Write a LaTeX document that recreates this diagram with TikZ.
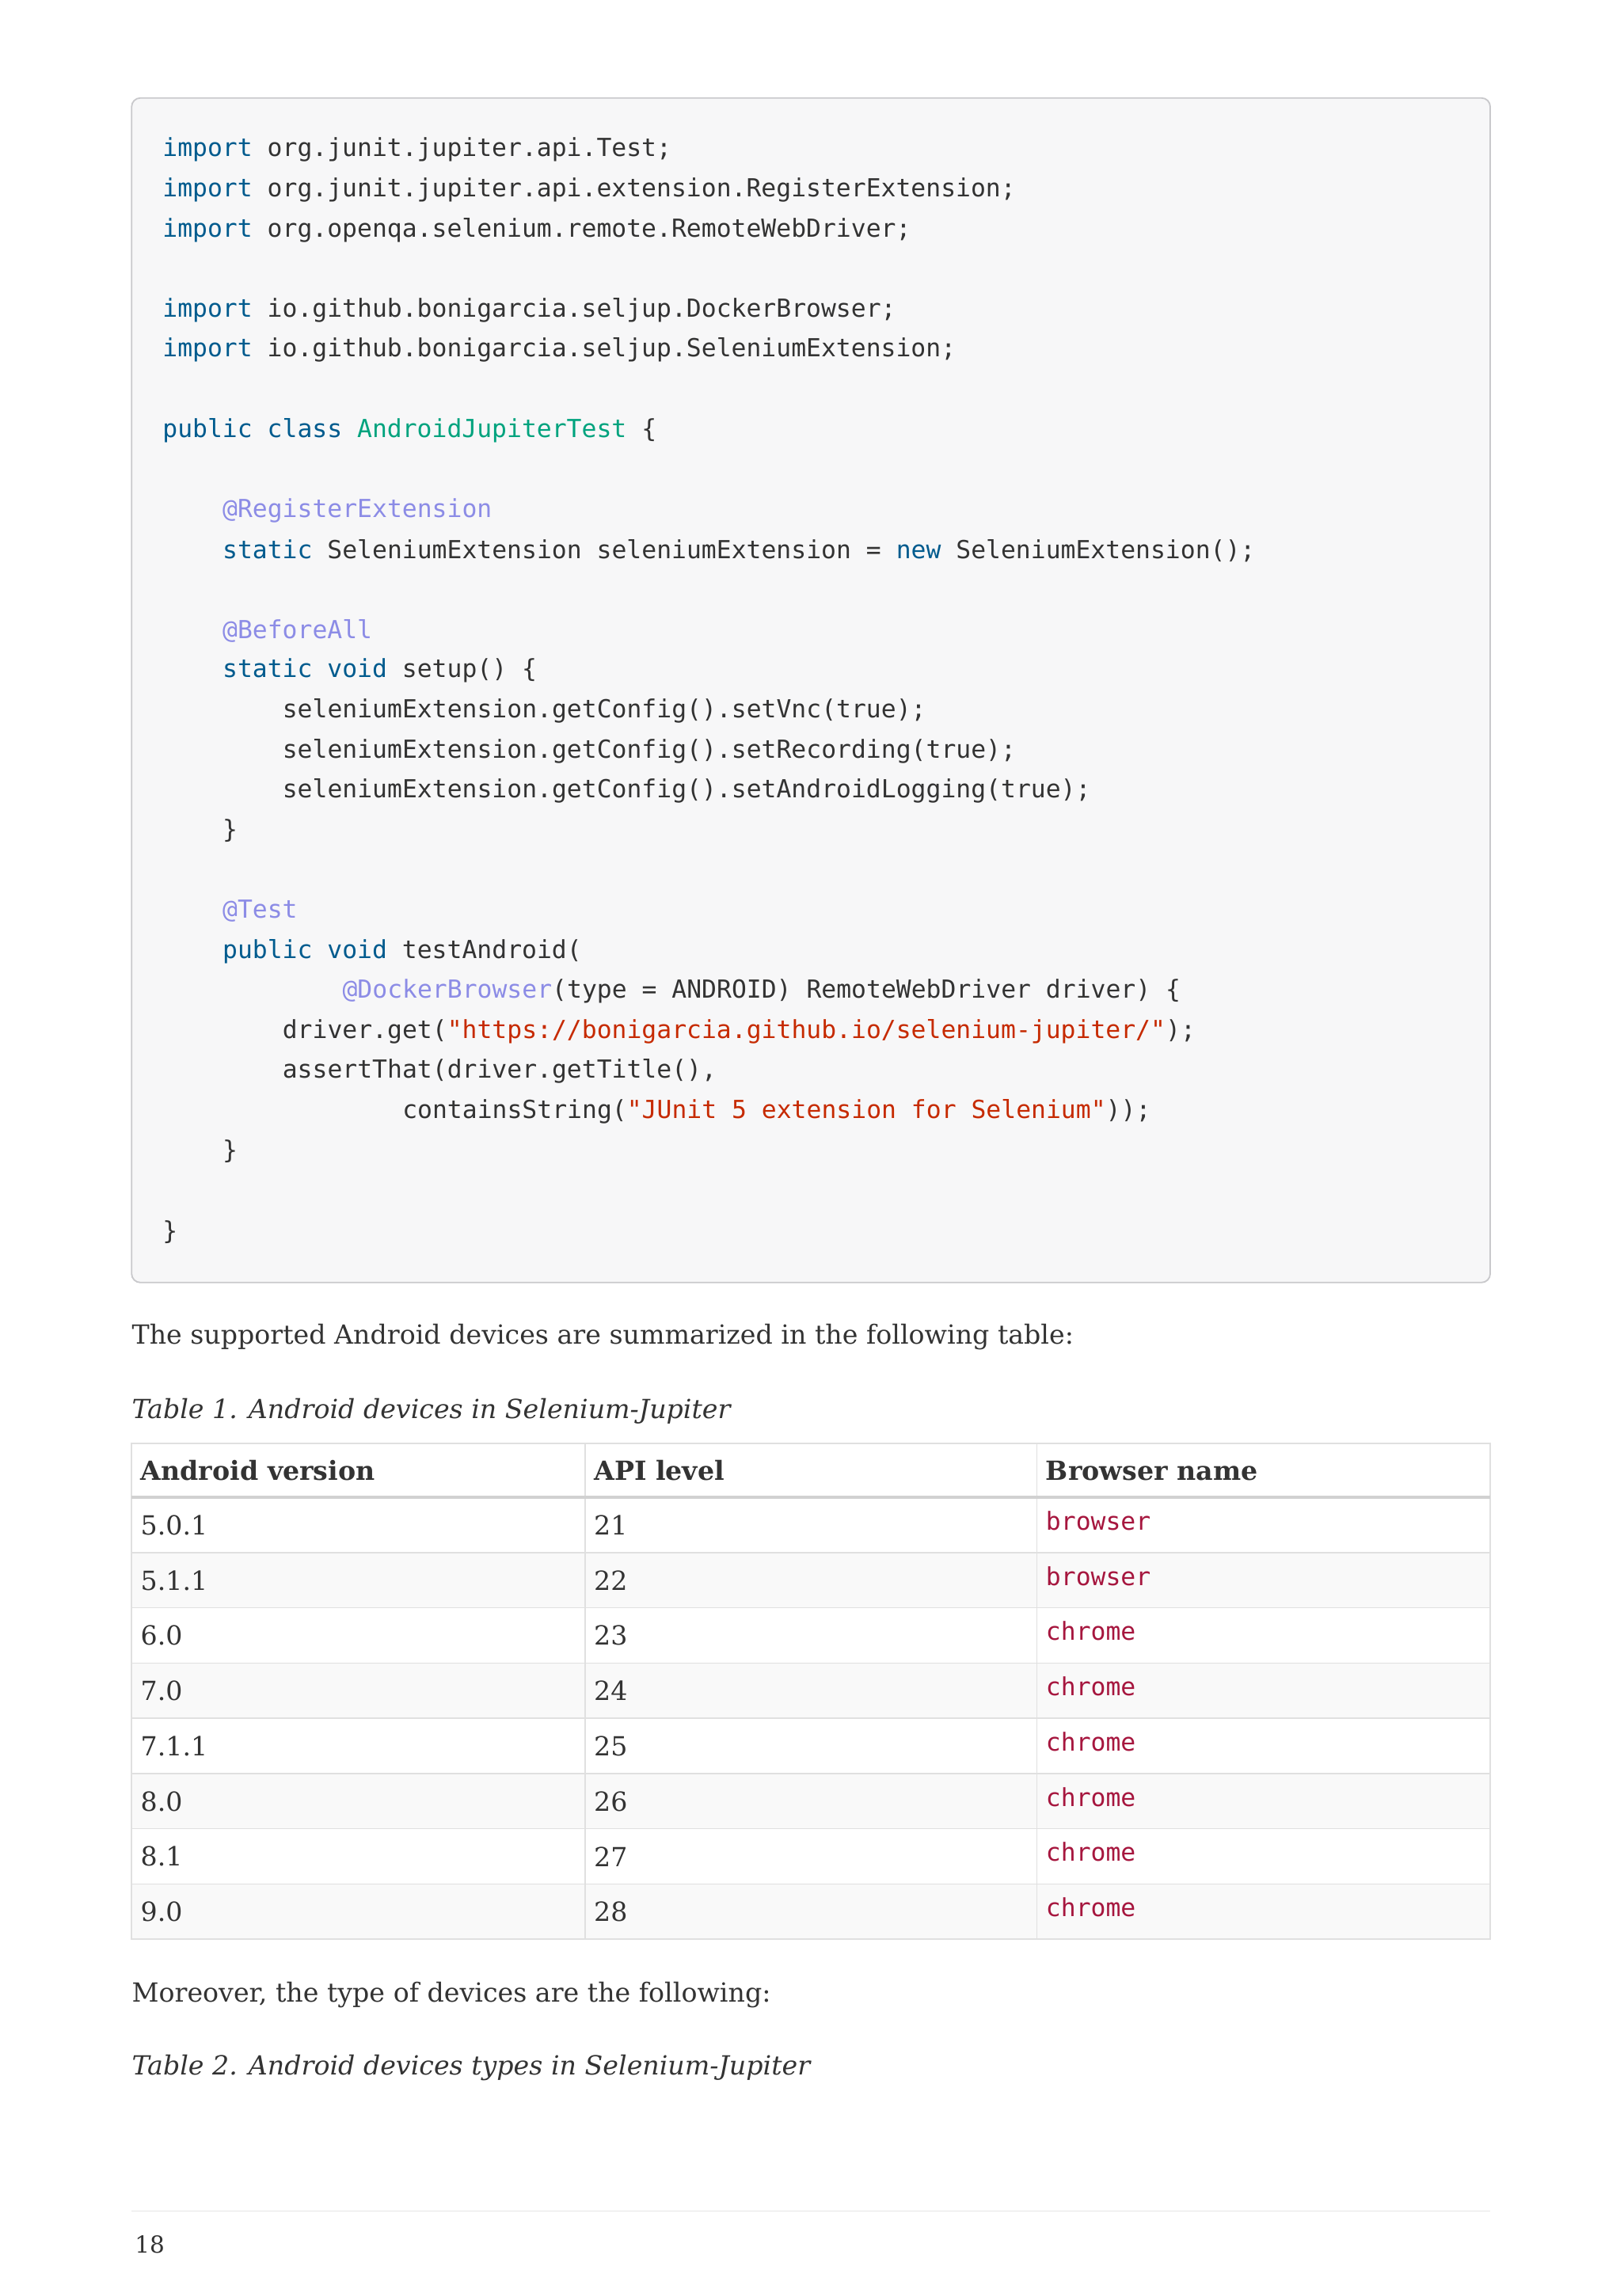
\documentclass[tikz,border=0pt]{standalone}
\usepackage{fontspec}
\setmainfont{DejaVu Serif}
\setmonofont{DejaVu Sans Mono}
\definecolor{kw}{HTML}{005B8E}
\definecolor{cls}{HTML}{00A37E}
\definecolor{ann}{HTML}{8C8CE6}
\definecolor{str}{HTML}{C62A00}
\definecolor{bn}{HTML}{A6163E}
\definecolor{boxbg}{HTML}{F7F7F8}
\definecolor{boxln}{HTML}{C9C9CC}
\definecolor{txt}{HTML}{333333}
\newcommand{\kw}[1]{\textcolor{kw}{#1}}
\newcommand{\cls}[1]{\textcolor{cls}{#1}}
\newcommand{\ann}[1]{\textcolor{ann}{#1}}
\newcommand{\str}[1]{\textcolor{str}{#1}}
\begin{document}
\begin{tikzpicture}[x=1pt,y=-1pt,
  code/.style={anchor=west,inner sep=0pt,font=\ttfamily\fontsize{17}{20}\selectfont,text=txt},
  body/.style={anchor=west,inner sep=0pt,font=\fontsize{18}{22}\selectfont,text=txt},
  captext/.style={body,font=\itshape\fontsize{18}{22}\selectfont},
  th/.style={body,font=\bfseries\fontsize{18}{22}\selectfont},
  bname/.style={code,text=bn}]
\useasboundingbox (0,0) rectangle (1110,1568);
\fill[white] (0,0) rectangle (1110,1568);
\draw[boxln,fill=boxbg,rounded corners=6pt,line width=1pt] (90,67) rectangle (1019,877);
\node[code] (c0) at (111,102.5) {\kw{import} org.junit.jupiter.api.Test;};
\node[code] (c1) at (111,129.9) {\kw{import} org.junit.jupiter.api.extension.RegisterExtension;};
\node[code] (c2) at (111,157.3) {\kw{import} org.openqa.selenium.remote.RemoteWebDriver;};
\node[code] (c4) at (111,212.1) {\kw{import} io.github.bonigarcia.seljup.DockerBrowser;};
\node[code] (c5) at (111,239.5) {\kw{import} io.github.bonigarcia.seljup.SeleniumExtension;};
\node[code] (c7) at (111,294.3) {\kw{public} \kw{class} \cls{AndroidJupiterTest} \{};
\node[code] (c9) at (152,349.1) {\ann{@RegisterExtension}};
\node[code] (c10) at (152,376.5) {\kw{static} SeleniumExtension seleniumExtension = \kw{new} SeleniumExtension();};
\node[code] (c12) at (152,431.3) {\ann{@BeforeAll}};
\node[code] (c13) at (152,458.7) {\kw{static} \kw{void} setup() \{};
\node[code] (c14) at (193,486.1) {seleniumExtension.getConfig().setVnc(true);};
\node[code] (c15) at (193,513.5) {seleniumExtension.getConfig().setRecording(true);};
\node[code] (c16) at (193,540.9) {seleniumExtension.getConfig().setAndroidLogging(true);};
\node[code] (c17) at (152,568.3) {\}};
\node[code] (c19) at (152,623.1) {\ann{@Test}};
\node[code] (c20) at (152,650.5) {\kw{public} \kw{void} testAndroid(};
\node[code] (c21) at (234,677.9) {\ann{@DockerBrowser}(type = ANDROID) RemoteWebDriver driver) \{};
\node[code] (c22) at (193,705.3) {driver.get(\str{"https://bonigarcia.github.io/selenium-jupiter/"});};
\node[code] (c23) at (193,732.7) {assertThat(driver.getTitle(),};
\node[code] (c24) at (275,760.1) {containsString(\str{"JUnit 5 extension for Selenium"}));};
\node[code] (c25) at (152,787.5) {\}};
\node[code] (c27) at (111,842.3) {\}};
\node[body] (p1) at (90,914) {The supported Android devices are summarized in the following table:};
\node[captext] (t1) at (90,965) {Table 1. Android devices in Selenium-Jupiter};
\foreach \i in {1,3,5,7} {\fill[black!2.5] (90,{1024+37.75*\i}) rectangle (1019,{1024+37.75*(\i+1)});}
\draw[black!12,line width=0.8pt] (90,987) rectangle (1019,1326);
\draw[black!12,line width=0.8pt] (400,987) -- (400,1326) (709,987) -- (709,1326);
\foreach \i in {1,...,7} {\draw[black!12,line width=0.8pt] (90,{1024+37.75*\i}) -- (1019,{1024+37.75*\i});}
\draw[black!18,line width=2pt] (90,1024) -- (1019,1024);
\node[th] (h1) at (96,1005.5) {Android version};
\node[th] (h2) at (406,1005.5) {API level};
\node[th] (h3) at (715,1005.5) {Browser name};
\foreach \v/\a/\b [count=\k from 0] in {5.0.1/21/browser,5.1.1/22/browser,6.0/23/chrome,7.0/24/chrome,7.1.1/25/chrome,8.0/26/chrome,8.1/27/chrome,9.0/28/chrome} {
  \node[body] (v\k) at (96,{1043+37.75*\k}) {\v};
  \node[body] (a\k) at (406,{1043+37.75*\k}) {\a};
  \node[bname] (b\k) at (715,{1040+37.75*\k}) {\b};
}
\node[body] (p2) at (90,1364) {Moreover, the type of devices are the following:};
\node[captext] (t2) at (90,1414) {Table 2. Android devices types in Selenium-Jupiter};
\draw[black!10,line width=0.8pt] (90,1512) -- (1019,1512);
\node[body,font=\fontsize{16}{20}\selectfont] (pg) at (92,1535) {18};
\end{tikzpicture}
\end{document}
